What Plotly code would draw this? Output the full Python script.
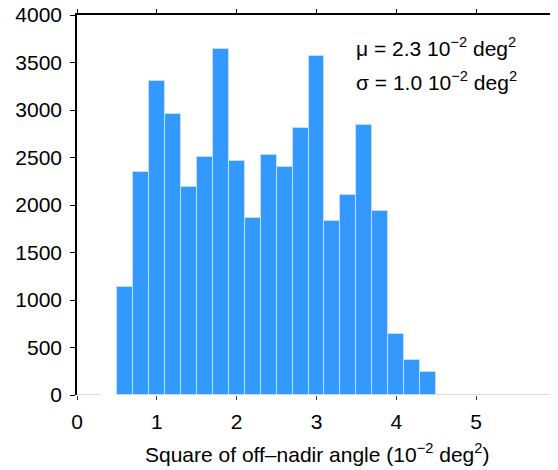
import plotly.graph_objects as go

bin_edges = [0.5, 0.7, 0.9, 1.1, 1.3, 1.5, 1.7, 1.9, 2.1, 2.3, 2.5,
             2.7, 2.9, 3.1, 3.3, 3.5, 3.7, 3.9, 4.1, 4.3, 4.5]
counts = [1141, 2347, 3301, 2961, 2192, 2508, 3639, 2463, 1858, 2522,
          2395, 2813, 3569, 1834, 2104, 2842, 1936, 640, 369, 239]
x_ticks = [0, 1, 2, 3, 4, 5, 6]
y_ticks = [0, 500, 1000, 1500, 2000, 2500, 3000, 3500, 4000]
zero_segments = [(0.0, 0.29), (4.5, 6.0)]
stats_text = ["μ = 2.3 10<sup>−2</sup> deg<sup>2</sup>",
              "σ = 1.0 10<sup>−2</sup> deg<sup>2</sup>"]

centers = [(a + b) / 2 for a, b in zip(bin_edges[:-1], bin_edges[1:])]
widths = [b - a for a, b in zip(bin_edges[:-1], bin_edges[1:])]

FONT = "Liberation Sans, Arial, Helvetica, sans-serif"
FS = 21

fig = go.Figure()
fig.add_trace(go.Bar(
    x=centers, y=counts, width=widths,
    marker=dict(color="#3399FF", line=dict(color="#BFDFFF", width=1)),
    showlegend=False, hoverinfo="x+y",
))
fig.add_trace(go.Scatter(x=[None], y=[None], xaxis="x2", yaxis="y",
                         showlegend=False, hoverinfo="skip"))

for x0, x1 in zero_segments:
    fig.add_shape(type="line", xref="x", yref="y", x0=x0, x1=x1, y0=0, y1=0,
                  line=dict(color="#B4B4B4", width=1), layer="above")

for i, t in enumerate(stats_text):
    fig.add_annotation(xref="paper", yref="paper", x=0.578, y=[0.916, 0.826][i],
                       xanchor="left", yanchor="middle", text=t, showarrow=False,
                       font=dict(family=FONT, size=FS, color="black"))

fig.add_annotation(xref="paper", yref="paper", x=0.5, y=-0.114,
                   xanchor="center", yanchor="top", showarrow=False,
                   text="Square of off–nadir angle (10<sup>−2</sup> deg<sup>2</sup>)",
                   font=dict(family=FONT, size=FS, color="black"))

fig.update_layout(
    width=550, height=462,
    margin=dict(l=69, r=2, t=7, b=75),
    paper_bgcolor="white", plot_bgcolor="white",
    bargap=0,
    font=dict(family=FONT, size=FS, color="black"),
    xaxis=dict(range=[0, 6], tickvals=x_ticks, ticks="outside", ticklen=4,
               tickcolor="#333333", showline=False, showgrid=False, zeroline=False,
               ticklabelstandoff=4, automargin=False, ticklabeloverflow="allow"),
    xaxis2=dict(range=[0, 6], tickvals=x_ticks, overlaying="x", side="top",
                ticks="outside", ticklen=4, tickcolor="black", showticklabels=False,
                showline=True, linecolor="black", linewidth=1.5, showgrid=False,
                zeroline=False, automargin=False),
    yaxis=dict(range=[0, 4000], tickvals=y_ticks, ticks="outside", ticklen=5,
               tickcolor="black", showline=True, linecolor="black", linewidth=1.5,
               mirror="ticks", showgrid=False, zeroline=False, ticklabelstandoff=4,
               automargin=False, ticklabeloverflow="allow"),
)

fig.write_html("out.html")
